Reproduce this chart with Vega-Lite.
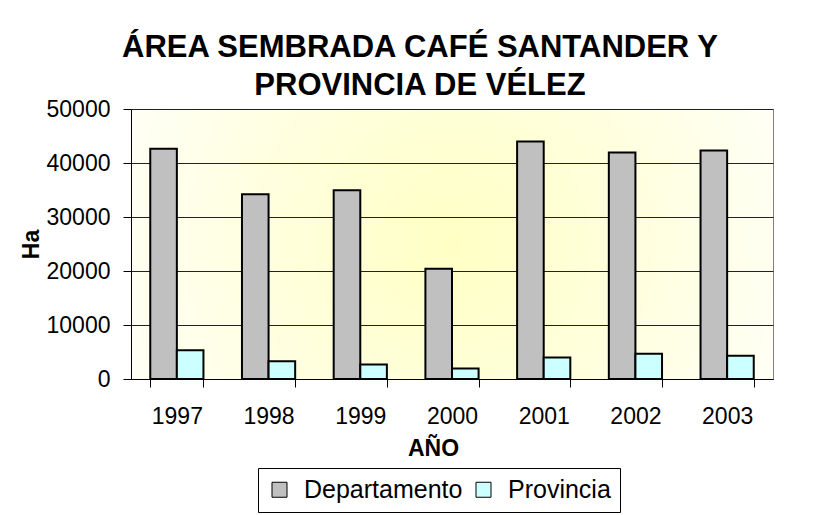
{
  "$schema": "https://vega.github.io/schema/vega-lite/v6.json",
  "width": 642,
  "height": 270,
  "autosize": {"type": "none"},
  "padding": {"left": 131, "top": 109, "right": 44, "bottom": 136},
  "background": "white",
  "title": {
    "text": ["ÁREA SEMBRADA CAFÉ SANTANDER Y", "PROVINCIA DE VÉLEZ"],
    "font": "Liberation Sans",
    "fontSize": 31,
    "fontWeight": "bold",
    "color": "black",
    "anchor": "middle",
    "frame": "group",
    "dx": -32,
    "dy": 10,
    "lineHeight": 38.5,
    "offset": 6
  },
  "data": {
    "values": [
      {"year": "1997", "series": "Departamento", "ha": 42630},
      {"year": "1997", "series": "Provincia", "ha": 5330},
      {"year": "1998", "series": "Departamento", "ha": 34220},
      {"year": "1998", "series": "Provincia", "ha": 3300},
      {"year": "1999", "series": "Departamento", "ha": 34960},
      {"year": "1999", "series": "Provincia", "ha": 2690},
      {"year": "2000", "series": "Departamento", "ha": 20430},
      {"year": "2000", "series": "Provincia", "ha": 1960},
      {"year": "2001", "series": "Departamento", "ha": 44000},
      {"year": "2001", "series": "Provincia", "ha": 4000},
      {"year": "2002", "series": "Departamento", "ha": 41960},
      {"year": "2002", "series": "Provincia", "ha": 4690},
      {"year": "2003", "series": "Departamento", "ha": 42330},
      {"year": "2003", "series": "Provincia", "ha": 4310}
    ]
  },
  "mark": {"type": "bar", "stroke": "black", "strokeWidth": 2, "opacity": 1},
  "encoding": {
    "x": {
      "field": "year",
      "type": "nominal",
      "scale": {"paddingInner": 0.42, "paddingOuter": 0.21},
      "axis": {
        "title": "AÑO",
        "labelAngle": 0,
        "tickBand": "extent",
        "titleX": 302,
        "titleY": 76,
        "titleBaseline": "alphabetic",
        "titleAlign": "center",
        "labelPadding": 18
      }
    },
    "xOffset": {
      "field": "series",
      "type": "nominal",
      "scale": {"paddingInner": 0, "paddingOuter": 0}
    },
    "y": {
      "field": "ha",
      "type": "quantitative",
      "scale": {"domain": [0, 50000], "nice": false},
      "axis": {
        "title": "Ha",
        "values": [0, 10000, 20000, 30000, 40000, 50000],
        "format": "d",
        "grid": true,
        "gridColor": "#222222",
        "gridWidth": 1,
        "gridOpacity": 1,
        "labelPadding": 13,
        "titleX": -100,
        "titleY": 135,
        "titleAngle": 270,
        "titleAlign": "center",
        "titleBaseline": "middle"
      }
    },
    "color": {
      "field": "series",
      "type": "nominal",
      "scale": {"domain": ["Departamento", "Provincia"], "range": ["#C0C0C0", "#CCFFFF"]},
      "legend": {
        "title": null,
        "orient": "none",
        "legendX": 127,
        "legendY": 359,
        "direction": "horizontal",
        "strokeColor": "black",
        "fillColor": "white",
        "padding": 9,
        "symbolType": "square",
        "symbolSize": 225,
        "symbolStrokeColor": "black",
        "symbolStrokeWidth": 1,
        "symbolOpacity": 1,
        "labelFontSize": 25,
        "labelFont": "Liberation Sans",
        "labelColor": "black",
        "labelOffset": 12,
        "labelLimit": 400,
        "columnPadding": 8
      }
    }
  },
  "config": {
    "font": "Liberation Sans",
    "view": {
      "stroke": "#808080",
      "strokeWidth": 1,
      "fill": {
        "gradient": "radial",
        "x1": 0.5, "y1": 0.5, "x2": 0.5, "y2": 0.5,
        "r1": 0, "r2": 0.6,
        "stops": [
          {"offset": 0, "color": "#FFFFC4"},
          {"offset": 1, "color": "#FFFFFA"}
        ]
      }
    },
    "axis": {
      "labelFont": "Liberation Sans",
      "labelFontSize": 23,
      "labelColor": "black",
      "titleFont": "Liberation Sans",
      "titleFontSize": 23,
      "titleFontWeight": "bold",
      "titleColor": "black",
      "domainColor": "black",
      "domainWidth": 1,
      "tickColor": "black",
      "tickSize": 8,
      "tickWidth": 1
    }
  }
}
